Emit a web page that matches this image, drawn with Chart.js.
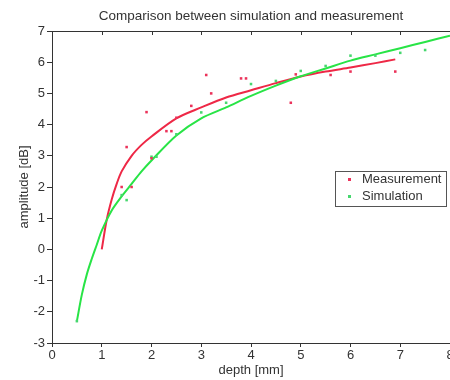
<!DOCTYPE html>
<html>
<head>
<meta charset="utf-8">
<script src="https://cdn.jsdelivr.net/npm/chart.js@4/dist/chart.umd.min.js"></script>
<style>
  html, body { margin: 0; padding: 0; background: #fff; overflow: hidden; }
  #wrap { position: absolute; left: 0; top: 0; width: 466px; height: 380px; }
</style>
</head>
<body>
<div id="wrap"><canvas id="c"></canvas></div>
<script>
// ---- data ----
const titleText = "Comparison between simulation and measurement";
const xTitle = "depth [mm]";
const yTitle = "amplitude [dB]";
const seriesNames = ["Measurement", "Simulation"];

const measDepth = [1.4, 1.5, 1.6, 1.9, 2.0, 2.3, 2.4, 2.5, 2.8, 3.1, 3.2, 3.8, 3.9, 4.8, 4.9, 5.6, 6.0, 6.9];
const measAmp   = [2.0, 3.28, 2.0, 4.4, 2.92, 3.79, 3.79, 4.22, 4.6, 5.59, 5.0, 5.48, 5.48, 4.7, 5.61, 5.59, 5.7, 5.7];

const simDepth = [0.5, 1.4, 1.5, 2.0, 2.1, 2.5, 3.0, 3.5, 4.0, 4.5, 5.0, 5.5, 6.0, 6.5, 7.0, 7.5];
const simAmp   = [-2.3, 1.74, 1.58, 2.97, 2.97, 3.69, 4.39, 4.70, 5.3, 5.4, 5.72, 5.88, 6.21, 6.21, 6.3, 6.39];

const measFitDepth = [1.0, 1.1, 1.2, 1.3, 1.4, 1.6, 1.8, 2.0, 2.5, 3.0, 3.5, 4.0, 4.5, 5.0, 5.5, 6.0, 6.5, 6.9];
const measFitAmp   = [0.0, 0.95, 1.6, 2.1, 2.5, 3.0, 3.35, 3.62, 4.2, 4.55, 4.87, 5.1, 5.33, 5.54, 5.7, 5.83, 5.97, 6.09];

const simFitDepth = [0.5, 0.6, 0.7, 0.8, 0.9, 1.0, 1.2, 1.4, 1.6, 1.8, 2.0, 2.5, 3.0, 3.5, 4.0, 4.5, 5.0, 5.5, 6.0, 6.5, 7.0, 7.5, 8.0];
const simFitAmp   = [-2.3, -1.45, -0.8, -0.3, 0.15, 0.6, 1.25, 1.7, 2.1, 2.5, 2.85, 3.65, 4.2, 4.55, 4.92, 5.25, 5.55, 5.8, 6.05, 6.25, 6.45, 6.65, 6.85];

// ---- styling ----
const RED = "rgb(238,40,70)";
const GREEN = "rgb(40,228,70)";
const RED_PT = "rgb(235,50,90)";
const GREEN_PT = "rgb(70,215,110)";
const TXT = "#333";
const FONT = "'Liberation Sans', Arial, sans-serif";

const toXY = (xs, ys) => xs.map((x, i) => ({ x: x, y: ys[i] }));

const frame = {
  id: "frame",
  afterDraw(chart) {
    const { ctx, chartArea: a, scales } = chart;
    const xs = scales.x;
    ctx.save();
    ctx.strokeStyle = TXT;
    ctx.lineWidth = 1;
    ctx.beginPath();
    ctx.moveTo(a.left, a.top + 0.5);
    ctx.lineTo(a.right, a.top + 0.5);
    for (let v = 1; v <= 8; v++) {
      const px = Math.round(xs.getPixelForValue(v)) + 0.5;
      ctx.moveTo(px, a.top);
      ctx.lineTo(px, a.top + 4);
    }
    ctx.stroke();

    // legend box
    const bx = a.right - 115, by = a.top + 140, bw = 111, bh = 35;
    ctx.fillStyle = "#fff";
    ctx.fillRect(bx, by, bw, bh);
    ctx.strokeStyle = "#555";
    ctx.strokeRect(bx + 0.5, by + 0.5, bw, bh);
    ctx.font = "13px " + FONT;
    ctx.fillStyle = TXT;
    ctx.textBaseline = "middle";
    ctx.textAlign = "left";
    ctx.fillText(seriesNames[0], bx + 27, by + 8);
    ctx.fillText(seriesNames[1], bx + 27, by + 25);
    ctx.fillStyle = RED_PT;
    ctx.fillRect(bx + 13, by + 7, 3, 3);
    ctx.fillStyle = GREEN_PT;
    ctx.fillRect(bx + 13, by + 24, 3, 3);
    ctx.restore();
  }
};

new Chart(document.getElementById("c"), {
  type: "scatter",
  data: {
    datasets: [
      { label: seriesNames[0] + " fit", data: toXY(measFitDepth, measFitAmp), showLine: true,
        borderColor: RED, borderWidth: 2, pointRadius: 0, tension: 0.3, order: 2 },
      { label: seriesNames[1] + " fit", data: toXY(simFitDepth, simFitAmp), showLine: true,
        borderColor: GREEN, borderWidth: 2, pointRadius: 0, tension: 0.3, order: 1 },
      { label: seriesNames[0], data: toXY(measDepth, measAmp), showLine: false,
        pointStyle: "rect", pointRadius: 1.8, backgroundColor: RED_PT, borderColor: RED_PT, borderWidth: 0, order: 0 },
      { label: seriesNames[1], data: toXY(simDepth, simAmp), showLine: false,
        pointStyle: "rect", pointRadius: 1.8, backgroundColor: GREEN_PT, borderColor: GREEN_PT, borderWidth: 0, order: 0 }
    ]
  },
  options: {
    responsive: true,
    maintainAspectRatio: false,
    devicePixelRatio: 1,
    animation: false,
    layout: { padding: { left: 0, right: 16, top: 0, bottom: 0 } },
    plugins: {
      legend: { display: false },
      tooltip: { enabled: false },
      title: {
        display: true, text: titleText, color: TXT, fullSize: false,
        font: { family: FONT, size: 13.5, weight: "normal" },
        padding: { top: 8, bottom: 6.8 }
      }
    },
    scales: {
      x: {
        type: "linear", min: 0, max: 8,
        afterFit(s) { s.height = 37; },
        ticks: { stepSize: 1, color: TXT, padding: 1, font: { family: FONT, size: 13 } },
        grid: { drawOnChartArea: false, drawTicks: true, tickLength: 4, color: TXT },
        border: { display: true, color: TXT, width: 1 },
        title: { display: true, text: xTitle, color: TXT, font: { family: FONT, size: 13 }, padding: { top: 0, bottom: 2 } }
      },
      y: {
        type: "linear", min: -3, max: 7,
        afterFit(s) { s.width = 52; },
        ticks: { stepSize: 1, color: TXT, padding: 2, font: { family: FONT, size: 13 } },
        grid: { drawOnChartArea: false, drawTicks: true, tickLength: 5, color: TXT },
        border: { display: true, color: TXT, width: 1 },
        title: { display: true, text: yTitle, color: TXT, font: { family: FONT, size: 13 }, padding: { top: 17, bottom: 0 } }
      }
    }
  },
  plugins: [frame]
});
</script>
</body>
</html>
